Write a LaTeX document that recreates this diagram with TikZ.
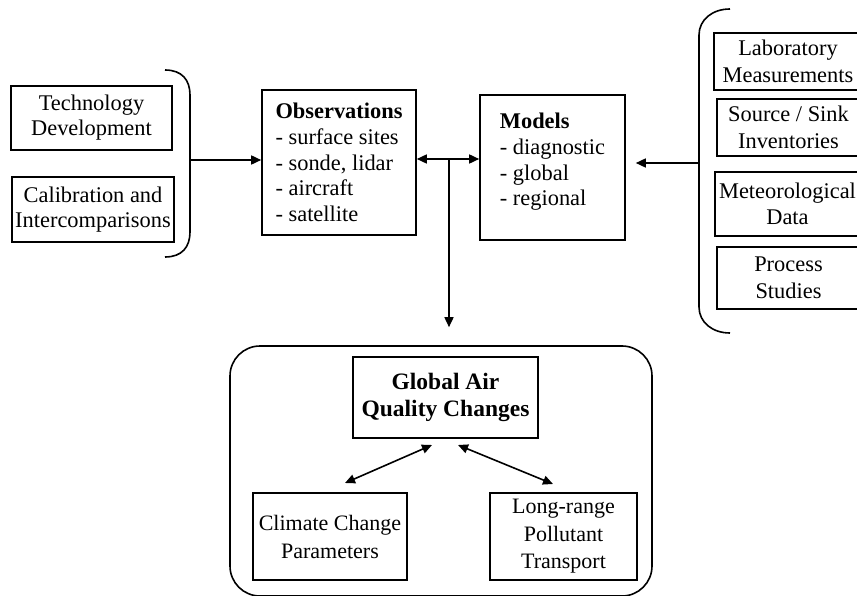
\documentclass[tikz,border=0pt]{standalone}
\usepackage{fontspec}
\setmainfont{Liberation Serif}
\usetikzlibrary{arrows.meta,calc}
\begin{document}
\begin{tikzpicture}[x=1pt,y=-1pt, line width=1.6pt,
  box/.style={draw, rectangle, inner sep=2pt, align=center, font=\fontsize{22.4}{26}\selectfont},
  arr/.style={-{Triangle[length=10pt,width=9pt]}},
  darr/.style={{Triangle[length=10pt,width=9pt]}-{Triangle[length=10pt,width=9pt]}}]
\useasboundingbox (0,0) rectangle (857,596);
\clip (0,0) rectangle (857,596);

% left group
\node[box, minimum width=161pt, minimum height=64pt, font=\fontsize{22.4}{25}\selectfont] (tech) at (91.5,118) {Technology\\Development};
\node[box, minimum width=162pt, minimum height=65pt, font=\fontsize{22.4}{25}\selectfont] (calib) at (93,209.5) {Calibration and\\Intercomparisons};
\draw (165,70) .. controls (182,70) and (190,80) .. (190,95) -- (190,232) .. controls (190,247) and (182,257) .. (165,257);
\coordinate (lb) at (190,160);

% centre
\node[box, align=left, minimum width=154pt, minimum height=145pt, font=\fontsize{22.4}{25.8}\selectfont] (obs) at (339,162.5)
  {\textbf{Observations}\\- surface sites\\- sonde, lidar\\- aircraft\\- satellite};
\node[box, align=left, minimum width=145pt, minimum height=145pt, text depth=16pt, font=\fontsize{22.4}{25.8}\selectfont] (models) at (552.5,167.5)
  {\textbf{Models}\\- diagnostic\\- global\\- regional};

% right group
\node[box, minimum width=148pt, minimum height=57pt, font=\fontsize{22.4}{27}\selectfont] (lab) at (788,61.5) {Laboratory\\Measurements};
\node[box, minimum width=143pt, minimum height=57pt, font=\fontsize{22.4}{27}\selectfont] (source) at (788.5,127.5) {Source / Sink\\Inventories};
\node[box, minimum width=145pt, minimum height=64pt, font=\fontsize{22.4}{26.5}\selectfont] (met) at (787.5,204) {Meteorological\\Data};
\node[box, minimum width=143pt, minimum height=62pt, font=\fontsize{22.4}{27}\selectfont] (proc) at (788.5,278) {Process\\Studies};
\draw (730,9) .. controls (712,9) and (699,20) .. (699,35) -- (699,307) .. controls (699,322) and (712,333) .. (730,333);
\coordinate (rb) at (699,163);

% bottom frame
\node[draw, rounded corners=30pt, inner sep=0pt, minimum width=422pt, minimum height=250pt] (frame) at (441,471) {};
\node[box, minimum width=185pt, minimum height=81pt, font=\fontsize{23.5}{27}\selectfont\bfseries] (global) at (445.5,397.5) {Global Air\\Quality Changes};
\node[box, minimum width=154pt, minimum height=87pt, font=\fontsize{22}{28}\selectfont] (climate) at (330,536.5) {Climate Change\\Parameters};
\node[box, minimum width=147pt, minimum height=87pt, font=\fontsize{22}{27.5}\selectfont] (longr) at (563.5,536.5) {Long-range\\Pollutant\\Transport};

% connectors
\draw[arr] (lb) -- (lb -| obs.west);
\draw[arr, shorten >=10pt] (rb) -- (rb -| models.east);
\coordinate (j) at (449,159);
\draw[darr] (j -| obs.east) -- (j -| models.west);
\draw[arr, shorten >=18pt] (j) -- (j |- frame.north);
\coordinate (c1) at (345,483);
\coordinate (g1) at (432,445);
\coordinate (g2) at (458,445);
\coordinate (c2) at (553,484);
\draw[darr] (c1) -- (g1);
\draw[darr] (g2) -- (c2);
\end{tikzpicture}
\end{document}
